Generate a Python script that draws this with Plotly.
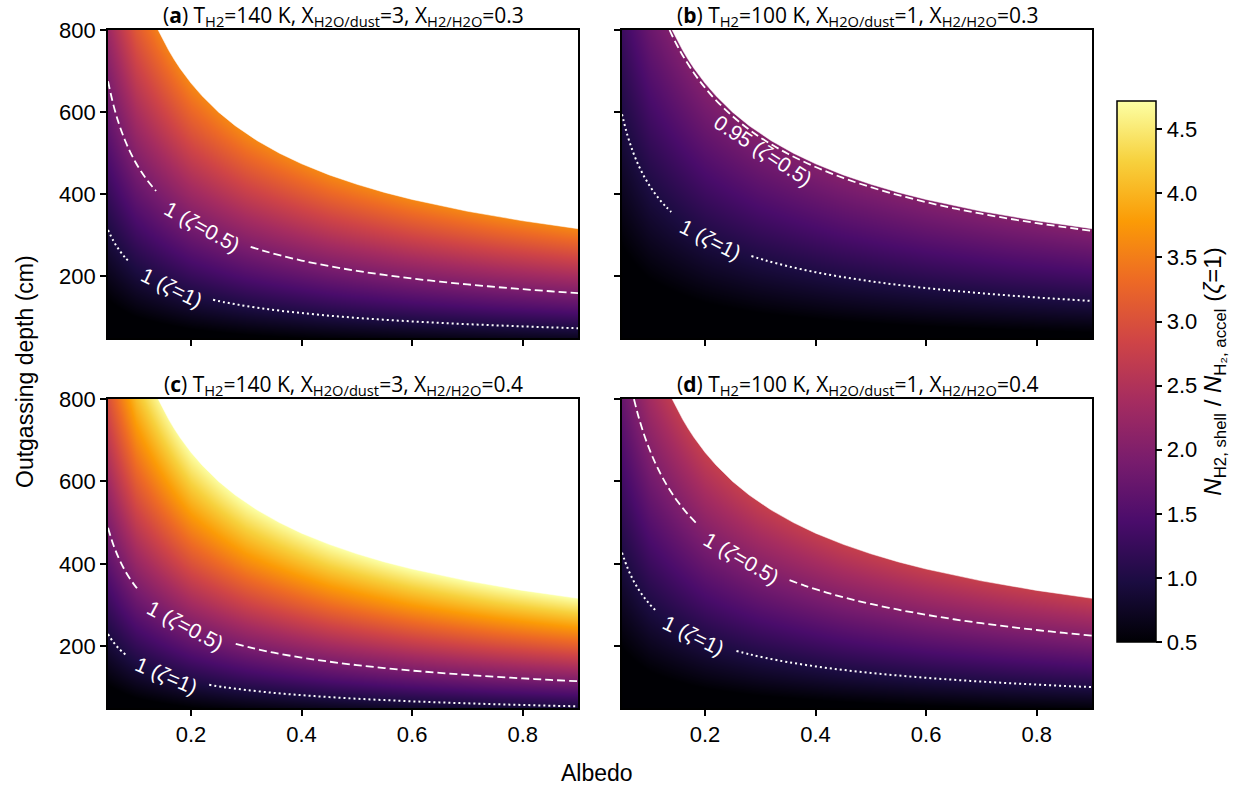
import plotly.graph_objects as go

# ---------------- data ----------------
albedo_grid = [0.05, 0.1, 0.2, 0.3, 0.45, 0.6, 0.75, 0.9]
depth_grid = [50, 125, 200, 300, 400, 550, 800]

# N_H2,shell / N_H2,accel (zeta=1), rows = depth_grid, cols = albedo_grid
ratio_a = [
    [0.199, 0.270, 0.366, 0.438, 0.523, 0.594, 0.655, 0.710],
    [0.446, 0.605, 0.820, 0.980, 1.172, 1.330, 1.467, 1.590],
    [0.674, 0.914, 1.241, 1.483, 1.772, 2.011, 2.219, 2.404],
    [0.963, 1.306, 1.772, 2.118, 2.532, 2.874, 3.170, 3.435],
    [1.240, 1.683, 2.283, 2.729, 3.262, 3.702, 4.084, 4.425],
    [1.642, 2.228, 3.022, 3.612, 4.318, 4.900, 5.406, 5.858],
    [2.283, 3.097, 4.202, 5.022, 6.003, 6.813, 7.516, 8.144],
]
ratio_b = [
    [0.113, 0.154, 0.208, 0.249, 0.298, 0.338, 0.373, 0.404],
    [0.253, 0.344, 0.466, 0.557, 0.666, 0.756, 0.834, 0.904],
    [0.383, 0.520, 0.705, 0.843, 1.008, 1.144, 1.262, 1.367],
    [0.547, 0.743, 1.008, 1.204, 1.440, 1.634, 1.802, 1.953],
    [0.705, 0.957, 1.298, 1.551, 1.854, 2.105, 2.322, 2.516],
    [0.933, 1.267, 1.718, 2.054, 2.455, 2.786, 3.074, 3.330],
    [1.298, 1.761, 2.389, 2.855, 3.413, 3.874, 4.273, 4.630],
]
ratio_c = [
    [0.262, 0.355, 0.482, 0.576, 0.688, 0.781, 0.862, 0.933],
    [0.586, 0.795, 1.079, 1.289, 1.541, 1.749, 1.929, 2.091],
    [0.886, 1.202, 1.631, 1.949, 2.330, 2.645, 2.918, 3.161],
    [1.266, 1.718, 2.331, 2.785, 3.329, 3.779, 4.169, 4.517],
    [1.631, 2.213, 3.002, 3.588, 4.289, 4.868, 5.370, 5.818],
    [2.159, 2.929, 3.974, 4.749, 5.677, 6.444, 7.108, 7.702],
    [3.001, 4.073, 5.525, 6.603, 7.893, 8.959, 9.883, 10.708],
]
ratio_d = [
    [0.151, 0.205, 0.279, 0.333, 0.398, 0.452, 0.499, 0.540],
    [0.339, 0.460, 0.624, 0.746, 0.892, 1.012, 1.117, 1.210],
    [0.513, 0.696, 0.944, 1.128, 1.349, 1.531, 1.689, 1.830],
    [0.733, 0.994, 1.349, 1.612, 1.927, 2.187, 2.412, 2.614],
    [0.944, 1.281, 1.737, 2.076, 2.482, 2.817, 3.108, 3.367],
    [1.249, 1.695, 2.300, 2.749, 3.285, 3.729, 4.114, 4.457],
    [1.737, 2.357, 3.198, 3.821, 4.568, 5.184, 5.719, 6.197],
]

# edge of the (white) excluded region, same in all panels
boundary_albedo = [0.1406, 0.15, 0.16, 0.17, 0.18, 0.2, 0.22, 0.25, 0.28, 0.32, 0.36,
                   0.4, 0.45, 0.5, 0.55, 0.6, 0.7, 0.8, 0.9]
boundary_depth = [800.1, 774.6, 750.0, 727.6, 707.1, 670.8, 639.6, 600.0, 566.9, 530.3, 500.0,
                  474.3, 447.2, 424.3, 404.5, 387.3, 358.6, 335.4, 316.2]

# contour lines (None = gap for the inline label)
dash_a_x = [0.05, 0.06, 0.07, 0.08, 0.09, 0.1, 0.11, 0.12, 0.13, 0.137, None,
            0.308, 0.33, 0.36, 0.4, 0.45, 0.5, 0.55, 0.6, 0.65, 0.7, 0.75, 0.8, 0.85, 0.9]
dash_a_y = [675.3, 616.5, 570.7, 533.9, 503.3, 477.5, 455.3, 435.9, 418.8, 408.0, None,
            272.1, 262.9, 251.7, 238.7, 225.1, 213.5, 203.6, 194.9, 187.3, 180.5, 174.4, 168.8, 163.8, 159.2]
dot_a_x = [0.05, 0.06, 0.07, 0.08, 0.09, None,
           0.24, 0.26, 0.28, 0.3, 0.33, 0.36, 0.4, 0.45, 0.5, 0.55, 0.6, 0.65, 0.7, 0.75, 0.8, 0.85, 0.9]
dot_a_y = [313.0, 285.8, 264.6, 247.5, 233.3, None,
           142.9, 137.3, 132.3, 127.8, 121.9, 116.7, 110.7, 104.4, 99.0, 94.4, 90.4, 86.8, 83.7, 80.8, 78.3, 75.9, 73.8]

dash_b_x = [0.136, 0.14, 0.15, 0.16, 0.18, 0.2, 0.22, 0.25, 0.28, 0.31, 0.35, 0.4, 0.45,
            0.5, 0.55, 0.6, 0.65, 0.7, 0.75, 0.8, 0.85, 0.9]
dash_b_y = [800.0, 788.4, 761.7, 737.5, 695.3, 659.6, 628.9, 590.0, 557.5, 529.8, 498.6, 466.4, 439.8,
            417.2, 397.8, 380.8, 365.9, 352.6, 340.6, 329.8, 320.0, 311.0]
dot_b_x = [0.05, 0.06, 0.07, 0.08, 0.09, 0.1, 0.11, 0.12, 0.13, 0.139, None,
           0.284, 0.31, 0.35, 0.4, 0.45, 0.5, 0.55, 0.6, 0.65, 0.7, 0.75, 0.8, 0.85, 0.9]
dot_b_y = [594.8, 543.0, 502.7, 470.2, 443.3, 420.6, 401.0, 383.9, 368.9, 356.7, None,
           249.6, 238.9, 224.8, 210.3, 198.3, 188.1, 179.3, 171.7, 165.0, 159.0, 153.6, 148.7, 144.3, 140.2]

dash_c_x = [0.05, 0.06, 0.07, 0.08, 0.09, 0.1, 0.107, None,
            0.281, 0.31, 0.35, 0.4, 0.45, 0.5, 0.55, 0.6, 0.65, 0.7, 0.75, 0.8, 0.85, 0.9]
dash_c_y = [487.5, 445.0, 412.0, 385.4, 363.3, 344.7, 333.2, None,
            205.6, 195.8, 184.2, 172.3, 162.5, 154.1, 147.0, 140.7, 135.2, 130.3, 125.9, 121.9, 118.2, 114.9]
dot_c_x = [0.05, 0.06, 0.07, 0.083, None,
           0.233, 0.26, 0.3, 0.35, 0.4, 0.45, 0.5, 0.55, 0.6, 0.65, 0.7, 0.75, 0.8, 0.85, 0.9]
dot_c_y = [229.4, 209.4, 193.9, 178.1, None,
           106.3, 100.6, 93.7, 86.7, 81.1, 76.5, 72.5, 69.2, 66.2, 63.6, 61.3, 59.2, 57.4, 55.6, 54.1]

dash_d_x = [0.0716, 0.08, 0.09, 0.1, 0.11, 0.12, 0.13, 0.14, 0.15, 0.16, 0.17, 0.184, None,
            0.353, 0.38, 0.42, 0.46, 0.5, 0.55, 0.6, 0.65, 0.7, 0.75, 0.8, 0.85, 0.9]
dash_d_y = [799.8, 756.6, 713.3, 676.7, 645.2, 617.8, 593.5, 571.9, 552.5, 535.0, 519.0, 498.9, None,
            360.2, 347.2, 330.2, 315.5, 302.6, 288.6, 276.3, 265.4, 255.8, 247.1, 239.3, 232.1, 225.6]
dot_d_x = [0.05, 0.06, 0.07, 0.08, 0.09, 0.1, 0.112, None,
           0.257, 0.28, 0.31, 0.35, 0.4, 0.45, 0.5, 0.55, 0.6, 0.65, 0.7, 0.75, 0.8, 0.85, 0.9]
dot_d_y = [427.1, 389.9, 360.9, 337.6, 318.3, 302.0, 285.4, None,
           188.4, 180.5, 171.5, 161.4, 151.0, 142.4, 135.1, 128.8, 123.3, 118.5, 114.1, 110.3, 106.8, 103.6, 100.7]

# contour labels: text, albedo, depth, angle
label_text = ["1 (<i>ζ</i>=0.5)", "1 (<i>ζ</i>=1)",
              "0.95 (<i>ζ</i>=0.5)", "1 (<i>ζ</i>=1)",
              "1 (<i>ζ</i>=0.5)", "1 (<i>ζ</i>=1)",
              "1 (<i>ζ</i>=0.5)", "1 (<i>ζ</i>=1)"]
label_albedo = [0.22, 0.165, 0.305, 0.21, 0.19, 0.156, 0.267, 0.18]
label_depth = [322, 172, 506, 290, 250, 130, 413, 226]
label_angle = [29, 26, 33, 27, 28, 23, 30, 26]
label_panel = [0, 0, 1, 1, 2, 2, 3, 3]

panel_titles = [
    "(<b>a</b>) T<sub>H2</sub>=140 K, X<sub>H2O/dust</sub>=3, X<sub>H2/H2O</sub>=0.3",
    "(<b>b</b>) T<sub>H2</sub>=100 K, X<sub>H2O/dust</sub>=1, X<sub>H2/H2O</sub>=0.3",
    "(<b>c</b>) T<sub>H2</sub>=140 K, X<sub>H2O/dust</sub>=3, X<sub>H2/H2O</sub>=0.4",
    "(<b>d</b>) T<sub>H2</sub>=100 K, X<sub>H2O/dust</sub>=1, X<sub>H2/H2O</sub>=0.4",
]
x_ticks = [0.2, 0.4, 0.6, 0.8]
y_ticks = [200, 400, 600, 800]
cbar_ticks = [0.5, 1.0, 1.5, 2.0, 2.5, 3.0, 3.5, 4.0, 4.5]
x_range = [0.05, 0.9]
y_range = [50, 800]
z_range = [0.5, 4.72]

# ---------------- figure ----------------
W, H = 1251, 793
ML, MT = 108, 30
MR = W - 1092
MB = H - 708
PW, PH = W - ML - MR, H - MT - MB

def px_x(p):
    return (p - ML) / PW

def px_y(p):
    return (H - MB - p) / PH

x_domains = [[px_x(108), px_x(578)], [px_x(622), px_x(1092)]] * 2
y_domains = [[px_y(338), px_y(30)]] * 2 + [[px_y(708), px_y(399)]] * 2

ratios = [ratio_a, ratio_b, ratio_c, ratio_d]
dashes = [(dash_a_x, dash_a_y), (dash_b_x, dash_b_y), (dash_c_x, dash_c_y), (dash_d_x, dash_d_y)]
dots = [(dot_a_x, dot_a_y), (dot_b_x, dot_b_y), (dot_c_x, dot_c_y), (dot_d_x, dot_d_y)]

fig = go.Figure()
FONT = "Liberation Sans, Arial, sans-serif"

poly_x = boundary_albedo + [x_range[1] + 0.05, x_range[1] + 0.05, boundary_albedo[0]]
poly_y = boundary_depth + [boundary_depth[-1], y_range[1] + 50, y_range[1] + 50]

for i in range(4):
    xa = "x" if i == 0 else f"x{i+1}"
    ya = "y" if i == 0 else f"y{i+1}"
    fig.add_trace(go.Heatmap(x=albedo_grid, y=depth_grid, z=ratios[i], coloraxis="coloraxis",
                             zsmooth="best", xaxis=xa, yaxis=ya, hoverinfo="skip"))
    fig.add_trace(go.Scatter(x=poly_x, y=poly_y, mode="lines", fill="toself",
                             fillcolor="white", line=dict(color="white", width=0.5),
                             xaxis=xa, yaxis=ya, showlegend=False, hoverinfo="skip"))
    fig.add_trace(go.Scatter(x=dashes[i][0], y=dashes[i][1], mode="lines",
                             line=dict(color="white", width=1.8, dash="8px,4px", shape="spline"),
                             connectgaps=False, xaxis=xa, yaxis=ya, showlegend=False, hoverinfo="skip"))
    fig.add_trace(go.Scatter(x=dots[i][0], y=dots[i][1], mode="lines",
                             line=dict(color="white", width=2.0, dash="2px,3px", shape="spline"),
                             connectgaps=False, xaxis=xa, yaxis=ya, showlegend=False, hoverinfo="skip"))

axis_common = dict(showline=True, linecolor="black", linewidth=1.6, mirror=True,
                   ticks="outside", ticklen=6, tickwidth=1.5, tickcolor="black",
                   showgrid=False, zeroline=False,
                   tickfont=dict(family=FONT, size=22, color="black"))
layout = dict(width=W, height=H, margin=dict(l=ML, r=MR, t=MT, b=MB, autoexpand=False),
              plot_bgcolor="white", paper_bgcolor="white", showlegend=False)
for i in range(4):
    sx = "" if i == 0 else str(i + 1)
    layout["xaxis" + sx] = dict(axis_common, domain=x_domains[i], range=x_range,
                                tickvals=x_ticks, ticktext=[f"{v:.1f}" for v in x_ticks],
                                showticklabels=(i >= 2), anchor="y" + sx)
    layout["yaxis" + sx] = dict(axis_common, domain=y_domains[i], range=y_range,
                                tickvals=y_ticks, ticktext=[str(v) for v in y_ticks],
                                showticklabels=(i % 2 == 0), anchor="x" + sx)

layout["coloraxis"] = dict(
    colorscale="Inferno", cmin=z_range[0], cmax=z_range[1],
    colorbar=dict(x=px_x(1117), xanchor="left", y=(px_y(101) + px_y(642)) / 2, yanchor="middle",
                  len=(642 - 101) / PH, lenmode="fraction", thickness=39, thicknessmode="pixels",
                  xpad=0, ypad=0, outlinewidth=1.5, outlinecolor="black",
                  ticks="outside", ticklen=6, tickwidth=1.5, tickcolor="black",
                  tickvals=cbar_ticks, ticktext=[f"{v:.1f}" for v in cbar_ticks],
                  tickfont=dict(family=FONT, size=22, color="black"),
                  title=dict(text="<i>N</i><sub>H2, shell</sub> / <i>N</i><sub>H₂, accel</sub> (<i>ζ</i>=1)",
                             side="right", font=dict(family=FONT, size=24, color="black"))))

annotations = []
for i in range(4):
    annotations.append(dict(text=panel_titles[i], xref="paper", yref="paper",
                            x=sum(x_domains[i]) / 2, y=y_domains[i][1], xanchor="center",
                            yanchor="bottom", yshift=-2, borderpad=0, showarrow=False,
                            font=dict(family="Open Sans, sans-serif", size=21, color="black")))
for t, ax_, ay_, ang, p in zip(label_text, label_albedo, label_depth, label_angle, label_panel):
    sx = "" if p == 0 else str(p + 1)
    annotations.append(dict(text=t, xref="x" + sx, yref="y" + sx, x=ax_, y=ay_,
                            xanchor="center", yanchor="middle", textangle=ang, showarrow=False,
                            font=dict(family=FONT, size=21, color="white")))
annotations.append(dict(text="Outgassing depth (cm)", xref="paper", yref="paper",
                        x=px_x(25), y=px_y(372), textangle=-90, showarrow=False,
                        xanchor="center", yanchor="middle",
                        font=dict(family=FONT, size=23, color="black")))
annotations.append(dict(text="Albedo", xref="paper", yref="paper",
                        x=px_x(597), y=px_y(773), showarrow=False, xanchor="center", yanchor="middle",
                        font=dict(family=FONT, size=23, color="black")))
layout["annotations"] = annotations
fig.update_layout(**layout)
fig.write_html("out.html", config={"displayModeBar": False},
               post_script="document.body.style.margin='0px';document.body.style.overflow='hidden';")
